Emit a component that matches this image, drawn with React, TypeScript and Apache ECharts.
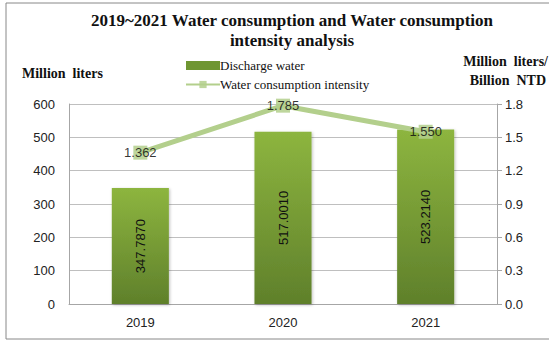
import React, { useEffect, useRef } from "react";
import * as echarts from "echarts";

const categories = ["2019", "2020", "2021"];
const dischargeWater = [347.787, 517.001, 523.214];
const dischargeLabels = ["347.7870", "517.0010", "523.2140"];
const intensity = [1.362, 1.785, 1.55];
const intensityLabels = ["1.362", "1.785", "1.550"];

export default function App() {
  const ref = useRef<HTMLDivElement>(null);
  useEffect(() => {
    const chart = echarts.init(ref.current!, null, { renderer: "svg" });
    const serif = "'Liberation Serif', 'Times New Roman', serif";
    const sans = "'Liberation Sans', 'DejaVu Sans', sans-serif";
    chart.setOption({
      animation: false,
      backgroundColor: "#ffffff",
      title: {
        text: "2019~2021 Water consumption and Water consumption\nintensity analysis",
        left: 287,
        textAlign: "center",
        top: 5,
        textStyle: { fontFamily: serif, fontWeight: "bold", fontSize: 17, color: "#111", lineHeight: 20 },
      },
      graphic: [
        { type: "rect", shape: { x: 6, y: 3, width: 560, height: 336 }, style: { fill: "none", stroke: "#888", lineWidth: 1 }, silent: true },
        { type: "text", x: 22, y: 66, style: { text: "Million  liters", font: "bold 14px " + serif, fill: "#111" } },
        { type: "text", x: 548, y: 54, style: { text: "Million  liters/", font: "bold 14px " + serif, fill: "#111", align: "right" } },
        { type: "text", x: 546, y: 73, style: { text: "Billion  NTD", font: "bold 14px " + serif, fill: "#111", align: "right" } },
      ],
      legend: {
        orient: "vertical",
        left: 180,
        top: 54,
        itemGap: 6,
        itemWidth: 34,
        itemHeight: 9,
        textStyle: { fontFamily: serif, fontSize: 13, color: "#111", padding: [0, 0, 0, -5] },
        data: [
          { name: "Discharge water", icon: "rect", itemStyle: { color: "#6f9632" } },
          { name: "Water consumption intensity" },
        ],
      },
      grid: { left: 69, right: 52, top: 104, bottom: 39 },
      xAxis: {
        type: "category",
        data: categories,
        axisLine: { lineStyle: { color: "#a6a6a6" } },
        axisTick: { show: false },
        axisLabel: { fontFamily: sans, fontSize: 13, color: "#222", margin: 12 },
      },
      yAxis: [
        {
          type: "value",
          min: 0,
          max: 600,
          interval: 100,
          axisLine: { show: true, lineStyle: { color: "#a6a6a6" } },
          axisTick: { show: false },
          splitLine: { lineStyle: { color: "#bfbfbf" } },
          axisLabel: { fontFamily: sans, fontSize: 13, color: "#222", margin: 14 },
        },
        {
          type: "value",
          min: 0,
          max: 1.8,
          interval: 0.3,
          position: "right",
          axisLine: { show: true, lineStyle: { color: "#a6a6a6" } },
          axisTick: { show: true, length: 5, lineStyle: { color: "#a6a6a6" } },
          splitLine: { show: false },
          axisLabel: { fontFamily: sans, fontSize: 13, color: "#222", margin: 8, formatter: (v: number) => v.toFixed(1) },
        },
      ],
      series: [
        {
          name: "Discharge water",
          type: "bar",
          data: dischargeWater,
          barWidth: "40%",
          itemStyle: {
            color: new echarts.graphic.LinearGradient(0, 0, 0, 1, [
              { offset: 0, color: "#8db53f" },
              { offset: 1, color: "#5f802b" },
            ]),
            shadowColor: "rgba(0,0,0,0.25)",
            shadowBlur: 3,
            shadowOffsetX: 1,
            shadowOffsetY: 1,
          },
          label: {
            show: true,
            position: "inside",
            rotate: 90,
            fontFamily: sans,
            fontSize: 13,
            color: "#111",
            formatter: (p: any) => dischargeLabels[p.dataIndex],
          },
        },
        {
          name: "Water consumption intensity",
          type: "line",
          yAxisIndex: 1,
          data: intensity,
          symbol: "rect",
          symbolSize: 14,
          lineStyle: { color: "#b3cf8c", width: 5 },
          itemStyle: { color: "#b3cf8c", opacity: 0.85 },
          label: {
            show: true,
            position: "inside",
            fontFamily: sans,
            fontSize: 13,
            color: "#111",
            formatter: (p: any) => intensityLabels[p.dataIndex],
          },
        },
      ],
    });
    return () => chart.dispose();
  }, []);
  return <div ref={ref} style={{ width: 549, height: 343, position: "absolute", left: 0, top: 0 }} />;
}
